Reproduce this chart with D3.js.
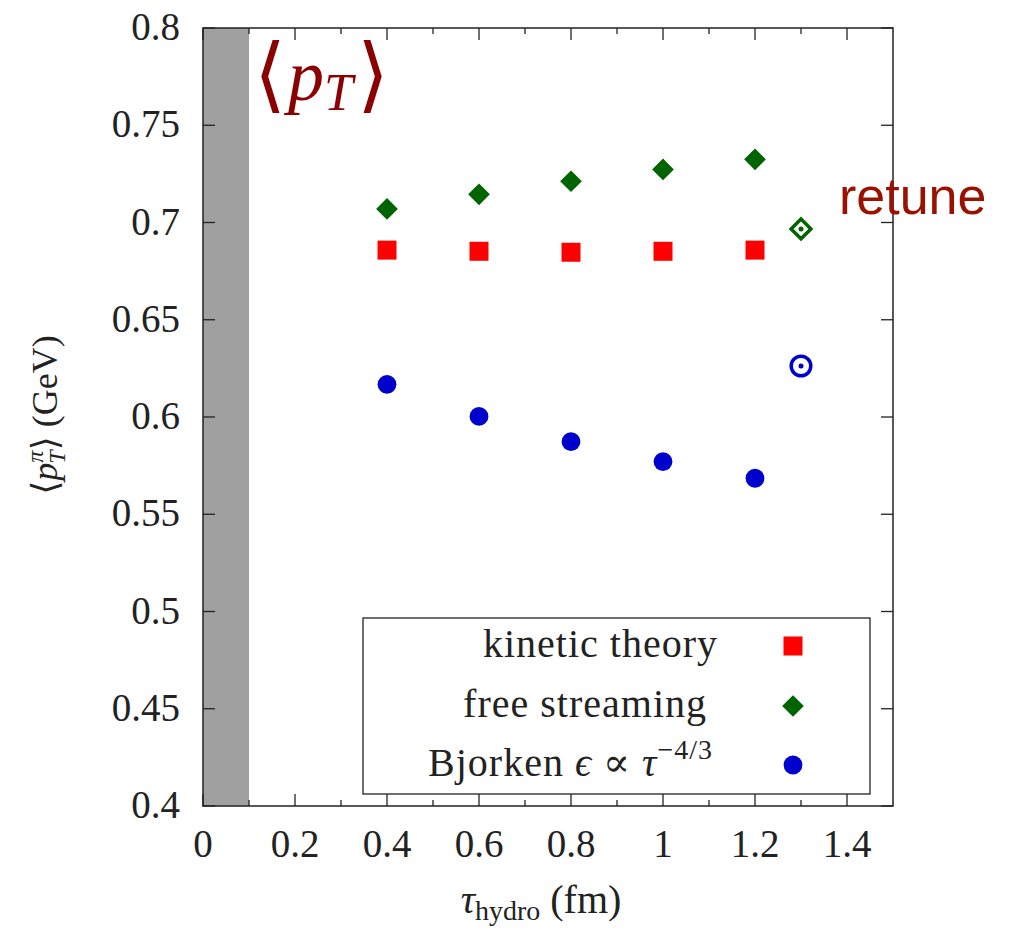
<!DOCTYPE html>
<html>
<head>
<meta charset="utf-8">
<script src="https://cdn.jsdelivr.net/npm/d3@7"></script>
<style>
body { margin: 0; background: #fff; }
svg text { font-family: "Liberation Serif", "DejaVu Serif", serif; fill: #222; }
</style>
</head>
<body>
<svg id="chart" width="1011" height="930"></svg>
<script>
// data
var tauHydro = [0.4, 0.6, 0.8, 1.0, 1.2];
var kinetic = [0.6858, 0.6852, 0.6847, 0.6852, 0.6858];
var freeStreaming = [0.7070, 0.7145, 0.7212, 0.7273, 0.7325];
var bjorken = [0.6168, 0.6003, 0.5873, 0.5771, 0.5685];
var retuneTau = 1.3;
var retuneFree = 0.6967;
var retuneBjorken = 0.6262;
var xTicks = [0, 0.2, 0.4, 0.6, 0.8, 1, 1.2, 1.4];
var yTicks = [0.4, 0.45, 0.5, 0.55, 0.6, 0.65, 0.7, 0.75, 0.8];

var svg = d3.select('#chart');
var box = {l: 203, r: 893, t: 28, b: 806};

var x = d3.scaleLinear().domain([0, 1.5]).range([box.l, box.r]);
var y = d3.scaleLinear().domain([0.4, 0.8]).range([box.b, box.t]);

// gray band (hydro not valid)
svg.append('rect').attr('x', x(0)).attr('y', y(0.8))
    .attr('width', x(0.1) - x(0)).attr('height', y(0.4) - y(0.8))
    .style('fill', '#a0a0a0');

// axes: ticks on all four sides
var minorX = d3.range(0.1, 1.5, 0.2);
function tickLines(g, vals, len, scale, side) {
    g.selectAll(null).data(vals).enter().append('line')
        .attr('x1', function(d) { return side == 'x' ? scale(d) : 0; })
        .attr('x2', function(d) { return side == 'x' ? scale(d) : len; })
        .attr('y1', function(d) { return side == 'x' ? 0 : scale(d); })
        .attr('y2', function(d) { return side == 'x' ? len : scale(d); })
        .style('stroke', '#222').style('stroke-width', 1.3);
}
var gb = svg.append('g').attr('transform', 'translate(0,' + box.b + ')');
tickLines(gb, xTicks, -12, x, 'x');
tickLines(gb, minorX, -6, x, 'x');
var gt = svg.append('g').attr('transform', 'translate(0,' + box.t + ')');
tickLines(gt, xTicks, 12, x, 'x');
tickLines(gt, minorX, 6, x, 'x');
var gl = svg.append('g').attr('transform', 'translate(' + box.l + ',0)');
tickLines(gl, yTicks, 12, y, 'y');
var gr = svg.append('g').attr('transform', 'translate(' + box.r + ',0)');
tickLines(gr, yTicks, -12, y, 'y');

svg.append('rect').attr('x', box.l).attr('y', box.t)
    .attr('width', box.r - box.l).attr('height', box.b - box.t)
    .style('fill', 'none').style('stroke', '#222').style('stroke-width', 1.5);

// tick labels
svg.selectAll('.xlab').data(xTicks).enter().append('text')
    .attr('x', function(d) { return x(d); }).attr('y', 857)
    .attr('text-anchor', 'middle').style('font-size', '39px')
    .text(function(d) { return d3.format('')(d); });
svg.selectAll('.ylab').data(yTicks).enter().append('text')
    .attr('x', 180).attr('y', function(d) { return y(d) + 12; })
    .attr('text-anchor', 'end').style('font-size', '39px')
    .text(function(d) { return d3.format('')(+d.toFixed(2)); });

// axis titles
var xt = svg.append('text').attr('x', 541).attr('y', 913)
    .attr('text-anchor', 'middle').style('font-size', '40px');
xt.append('tspan').style('font-style', 'italic').text('τ');
xt.append('tspan').attr('dy', 7).style('font-size', '28px').text('hydro');
xt.append('tspan').attr('dy', -7).text(' (fm)');

var yt = svg.append('text').attr('transform', 'translate(57,415) rotate(-90)')
    .attr('text-anchor', 'middle').style('font-size', '36px');
yt.append('tspan').text('⟨');
yt.append('tspan').style('font-style', 'italic').text('p');
yt.append('tspan').attr('dy', -14).style('font-size', '24px').style('font-style', 'italic').text('π');
yt.append('tspan').attr('dx', -13).attr('dy', 22).style('font-size', '24px').style('font-style', 'italic').text('T');
yt.append('tspan').attr('dy', -8).text('⟩ (GeV)');

// annotation <p_T>, one text element
var dark = '#8b0000';
var pt = svg.append('text').attr('x', 254).attr('y', 102)
    .style('font-size', '72px').style('fill', dark);
pt.append('tspan').style('fill', dark).style('font-size', '82px').text('⟨');
pt.append('tspan').attr('dx', 2).attr('dy', -2).style('fill', dark).style('font-style', 'italic').text('p');
pt.append('tspan').attr('dy', 10).style('fill', dark).style('font-size', '52px').style('font-style', 'italic').text('T');
pt.append('tspan').attr('dx', 4).attr('dy', -8).style('fill', dark).style('font-size', '82px').text('⟩');

svg.append('text').attr('x', 839).attr('y', 214)
    .style('font-family', '"Liberation Sans", Arial, sans-serif')
    .style('font-size', '52px').style('fill', '#991100').text('retune');

// markers
var red = '#ff0000', green = '#006400', blue = '#0000cc';
var sq = d3.symbol().type(d3.symbolSquare).size(19 * 19);
var dia = d3.symbol().type(d3.symbolDiamond2).size(300);
var circ = d3.symbol().type(d3.symbolCircle).size(Math.PI * 9.4 * 9.4);

function drawSeries(vals, sym, color) {
    svg.append('g').selectAll('path').data(vals).enter().append('path')
        .attr('transform', function(d, i) { return 'translate(' + x(tauHydro[i]) + ',' + y(d) + ')'; })
        .attr('d', sym).style('fill', color);
}
drawSeries(kinetic, sq, red);
drawSeries(freeStreaming, dia, green);
drawSeries(bjorken, circ, blue);

// retune points: open markers with a center dot
var rg = svg.append('g').attr('transform', 'translate(' + x(retuneTau) + ',' + y(retuneFree) + ')');
rg.append('path').attr('d', d3.symbol().type(d3.symbolDiamond2).size(250)())
    .style('fill', 'none').style('stroke', green).style('stroke-width', 3.5);
rg.append('circle').attr('r', 2.5).style('fill', green);
var rb = svg.append('g').attr('transform', 'translate(' + x(retuneTau) + ',' + y(retuneBjorken) + ')');
rb.append('circle').attr('r', 9.8)
    .style('fill', 'none').style('stroke', blue).style('stroke-width', 3.5);
rb.append('circle').attr('r', 2.5).style('fill', blue);

// legend
var lg = svg.append('g');
lg.append('rect').attr('x', 363).attr('y', 618).attr('width', 507).attr('height', 176)
    .style('fill', '#fff').style('stroke', '#222').style('stroke-width', 1.3);
var rows = [
    {label: 'kinetic theory', sym: sq, color: red, ty: 657, right: 718},
    {label: 'free streaming', sym: dia, color: green, ty: 717, right: 707},
    {label: 'Bjorken', sym: circ, color: blue, ty: 776, right: 713}
];
rows.forEach(function(r, i) {
    lg.append('path').attr('transform', 'translate(793,' + (r.ty - 11) + ')')
        .attr('d', r.sym).style('fill', r.color);
    var t = lg.append('text').attr('x', r.right).attr('y', r.ty)
        .attr('text-anchor', 'end').style('font-size', '40px').style('letter-spacing', '1px');
    if (i < 2) { t.text(r.label); return; }
    t.append('tspan').text('Bjorken ');
    t.append('tspan').style('font-style', 'italic').text('ϵ');
    t.append('tspan').text(' ∝ ');
    t.append('tspan').style('font-style', 'italic').text('τ');
    t.append('tspan').attr('dy', -17).style('font-size', '28px').text('−4/3');
});
</script>
</body>
</html>
